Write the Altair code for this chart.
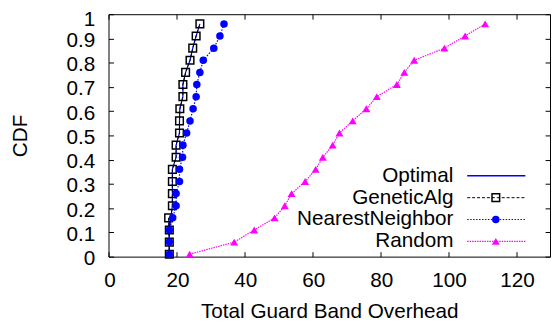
import altair as alt
import pandas as pd

# ---- data ----
cdf = [0.01, 0.06, 0.11, 0.16, 0.21, 0.26, 0.31, 0.36, 0.41, 0.46,
       0.51, 0.56, 0.61, 0.66, 0.71, 0.76, 0.81, 0.86, 0.91, 0.96]
optimal = [17.9, 17.9, 17.9, 17.8, 18.8, 18.8, 18.8, 18.8, 19.9, 19.9,
           20.9, 20.9, 21.0, 21.9, 21.9, 22.7, 24.0, 24.8, 25.8, 26.9]
genetic = [17.9, 17.9, 17.9, 17.7, 18.8, 18.8, 18.8, 18.8, 19.9, 19.9,
           20.9, 20.9, 21.0, 21.9, 21.9, 22.7, 24.0, 24.8, 25.8, 26.9]
nearest = [17.9, 17.9, 17.9, 18.9, 19.9, 19.9, 20.9, 20.9, 21.8, 21.9,
           23.0, 24.0, 24.9, 25.8, 26.0, 26.9, 27.9, 31.0, 32.8, 34.0]
random_ = [23.9, 37.0, 42.9, 48.9, 51.9, 53.9, 57.9, 61.0, 63.1, 66.0,
           68.0, 71.9, 75.9, 79.0, 84.9, 87.1, 90.0, 98.9, 105.0, 110.9]

series_names = ["Optimal", "GeneticAlg", "NearestNeighbor", "Random"]
x_ticks = [0, 20, 40, 60, 80, 100, 120]
y_ticks = [0, 0.1, 0.2, 0.3, 0.4, 0.5, 0.6, 0.7, 0.8, 0.9, 1]

# ---- styling ----
W, H = 448, 246
FONT = "Liberation Sans"
FS = 21
BLUE = "#0000ff"
MAGENTA = "#ff00ff"

df = pd.concat([
    pd.DataFrame({"x": optimal, "y": cdf, "series": "Optimal"}),
    pd.DataFrame({"x": genetic, "y": cdf, "series": "GeneticAlg"}),
    pd.DataFrame({"x": nearest, "y": cdf, "series": "NearestNeighbor"}),
    pd.DataFrame({"x": random_, "y": cdf, "series": "Random"}),
], ignore_index=True)

xs = alt.Scale(domain=[0, 130], nice=False, zero=False)
ys = alt.Scale(domain=[0, 1], nice=False, zero=False)

base = alt.Chart(df)


def enc(chart, xaxis=None, yaxis=None):
    return chart.encode(
        x=alt.X("x:Q", scale=xs, axis=xaxis),
        y=alt.Y("y:Q", scale=ys, axis=yaxis),
    )


def sel(name):
    return base.transform_filter(alt.datum.series == name)


x_main = alt.Axis(orient="bottom", values=x_ticks, ticks=False, tickSize=0,
                  labelPadding=13, labelOffset=1, labelFont=FONT, labelFontSize=FS,
                  labelColor="black", labelFlush=False, labelOverlap=False,
                  domainColor="black", domainWidth=1, grid=False,
                  title="Total Guard Band Overhead", titleFont=FONT,
                  titleFontSize=FS, titleFontWeight="normal", titleColor="black",
                  titleX=W / 2, titleY=62, titleAlign="center",
                  titleBaseline="alphabetic")
y_main = alt.Axis(orient="left", values=y_ticks, format="~g", ticks=False,
                  tickSize=0, labelPadding=14,
                  labelOffset={"condition": {"test": "datum.value >= 1", "value": 5},
                               "value": 2},
                  labelFont=FONT,
                  labelFontSize=FS, labelColor="black", labelFlush=False,
                  labelOverlap=False, domainColor="black", domainWidth=1,
                  grid=False, title="CDF", titleFont=FONT, titleFontSize=FS,
                  titleFontWeight="normal", titleColor="black", titleAngle=270,
                  titleX=-83, titleY=H / 2, titleAlign="center",
                  titleBaseline="alphabetic")

tick_bottom = alt.Axis(orient="top", offset=-H, values=x_ticks, labels=False,
                       ticks=True, tickSize=5, tickColor="black", domain=False,
                       grid=False, title="")
tick_top = alt.Axis(orient="bottom", offset=-H, values=x_ticks, labels=False,
                    ticks=True, tickSize=5, tickColor="black", domain=True,
                    domainColor="black", grid=False, title="")
tick_left = alt.Axis(orient="right", offset=-W, values=y_ticks, labels=False,
                     ticks=True, tickSize=5, tickColor="black", domain=False,
                     grid=False, title="")
tick_right = alt.Axis(orient="left", offset=-W, values=y_ticks, labels=False,
                      ticks=True, tickSize=5, tickColor="black", domain=True,
                      domainColor="black", grid=False, title="")

ticks_a = enc(base.mark_point(opacity=0), tick_bottom, tick_left)
ticks_b = enc(base.mark_point(opacity=0), tick_top, tick_right)

opt_line = enc(sel("Optimal").mark_line(color=BLUE, strokeWidth=1.2), x_main, y_main)
ga_line = enc(sel("GeneticAlg").mark_line(color="black", strokeWidth=1, strokeDash=[3, 2]))
ga_pts = enc(sel("GeneticAlg").mark_point(shape="square", filled=False, color="black",
                                           size=60, strokeWidth=1.5, opacity=1))
nn_line = enc(sel("NearestNeighbor").mark_line(color=BLUE, strokeWidth=1.2, strokeDash=[1.5, 1.5]))
nn_pts = enc(sel("NearestNeighbor").mark_point(shape="circle", filled=True, color=BLUE,
                                                size=58, opacity=1))
rd_line = enc(sel("Random").mark_line(color=MAGENTA, strokeWidth=1.2, strokeDash=[1.5, 1]))
rd_pts = enc(sel("Random").mark_point(shape="triangle-up", filled=True, color=MAGENTA,
                                       size=65, opacity=1))

plot = alt.layer(ticks_a, ticks_b, opt_line, ga_line, ga_pts, nn_line, nn_pts,
                 rd_line, rd_pts).resolve_axis(x="independent", y="independent")

# ---- legend (built from the series names) ----
legend_df = pd.DataFrame({"name": series_names, "row": [0, 1, 2, 3]})
lbase = alt.Chart(legend_df)
ly = alt.Y("row:Q", scale=alt.Scale(domain=[0, 3], range=[164, 230.5]), axis=None)


def lsel(name):
    return lbase.transform_filter(alt.datum.name == name)


leg_text = lbase.mark_text(align="right", baseline="middle", font=FONT,
                           fontSize=FS, color="black").encode(
    x=alt.value(350), y=ly, text="name:N")

leg_opt = lsel("Optimal").mark_rule(color=BLUE, strokeWidth=1.5).encode(
    x=alt.value(364), x2=alt.value(423), y=ly)
leg_ga = lsel("GeneticAlg").mark_rule(color="black", strokeWidth=1, strokeDash=[3, 2]).encode(
    x=alt.value(364), x2=alt.value(423), y=ly)
leg_ga_p = lsel("GeneticAlg").mark_point(shape="square", filled=False, color="black",
                                          size=60, strokeWidth=1.5, opacity=1).encode(
    x=alt.value(393), y=ly)
leg_nn = lsel("NearestNeighbor").mark_rule(color=BLUE, strokeWidth=1.2, strokeDash=[1.5, 1.5]).encode(
    x=alt.value(364), x2=alt.value(423), y=ly)
leg_nn_p = lsel("NearestNeighbor").mark_point(shape="circle", filled=True, color=BLUE,
                                               size=58, opacity=1).encode(
    x=alt.value(393), y=ly)
leg_rd = lsel("Random").mark_rule(color=MAGENTA, strokeWidth=1.2, strokeDash=[1.5, 1]).encode(
    x=alt.value(364), x2=alt.value(423), y=ly)
leg_rd_p = lsel("Random").mark_point(shape="triangle-up", filled=True, color=MAGENTA,
                                      size=65, opacity=1).encode(
    x=alt.value(393), y=ly)

legend = alt.layer(leg_text, leg_opt, leg_ga, leg_ga_p, leg_nn, leg_nn_p, leg_rd, leg_rd_p)

chart = alt.layer(plot, legend).resolve_scale(y="independent").properties(
    width=W, height=H,
    autosize=alt.AutoSizeParams(type="none"),
    padding={"left": 102, "top": 4, "right": 1, "bottom": 63},
    background="white",
).configure_view(stroke=None)

chart.save("out.html", embed_options={"renderer": "svg", "actions": False})
